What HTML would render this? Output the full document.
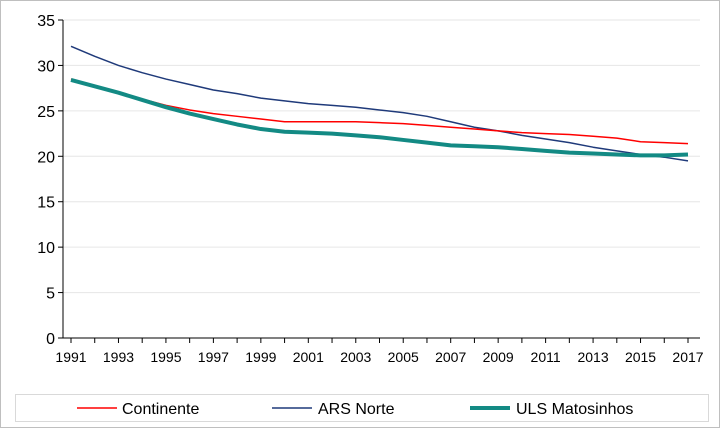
<!DOCTYPE html>
<html><head><meta charset="utf-8"><style>
body{margin:0;background:#fff;}
svg{font-family:"Liberation Sans",Arial,sans-serif;}
</style></head><body>
<svg id="c" width="720" height="428">
<rect x="0.5" y="0.5" width="719" height="427" fill="#fff" stroke="#bfbfbf"/>
<g id="grid"></g>
<g id="axes"></g>
<g id="series"></g>
<g>
<rect x="15.5" y="394.5" width="693" height="27" fill="#fff" stroke="#d9d9d9"/>
<g><line x1="77" y1="408" x2="117" y2="408" stroke="#ff0000" stroke-width="1.5"/><text x="122" y="414" font-size="16" fill="#000">Continente</text></g>
<g><line x1="272" y1="408" x2="312" y2="408" stroke="#1f3a7a" stroke-width="1.5"/><text x="318" y="414" font-size="16" fill="#000">ARS Norte</text></g>
<g><line x1="470" y1="408" x2="510" y2="408" stroke="#138a84" stroke-width="4"/><text x="516" y="414" font-size="16" fill="#000">ULS Matosinhos</text></g>
</g>
</svg>
<script>
const years=[1991,1992,1993,1994,1995,1996,1997,1998,1999,2000,2001,2002,2003,2004,2005,2006,2007,2008,2009,2010,2011,2012,2013,2014,2015,2016,2017];
const continente=[28.5,27.8,27.0,26.3,25.6,25.1,24.7,24.4,24.1,23.8,23.8,23.8,23.8,23.7,23.6,23.4,23.2,23.0,22.8,22.6,22.5,22.4,22.2,22.0,21.6,21.5,21.4];
const arsNorte=[32.1,31.0,30.0,29.2,28.5,27.9,27.3,26.9,26.4,26.1,25.8,25.6,25.4,25.1,24.8,24.4,23.8,23.2,22.8,22.3,21.9,21.5,21.0,20.6,20.2,19.9,19.5];
const uls=[28.4,27.7,27.0,26.2,25.4,24.7,24.1,23.5,23.0,22.7,22.6,22.5,22.3,22.1,21.8,21.5,21.2,21.1,21.0,20.8,20.6,20.4,20.3,20.2,20.1,20.1,20.2];
const yTicks=[0,5,10,15,20,25,30,35];
const NS="http://www.w3.org/2000/svg";
const X0=63,X1=700,Y0=338,Y1=20;
function xs(i){return 71+i*(688-71)/(years.length-1);}
function ys(v){return Y0-(v/35)*(Y0-Y1);}
function mk(t,a,p){const e=document.createElementNS(NS,t);for(const k in a)e.setAttribute(k,a[k]);p.appendChild(e);return e;}
const grid=document.getElementById('grid'),axes=document.getElementById('axes'),ser=document.getElementById('series');
yTicks.forEach(v=>{
 if(v>0){const g=mk('line',{x1:X0,x2:X1,y1:ys(v),y2:ys(v),stroke:'#e6e6e6'},grid);
 
 }
 const t=mk('text',{x:X0-8,y:ys(v)+6,'text-anchor':'end','font-size':16},axes);t.textContent=v;
 
 
 mk('line',{x1:X0-5,x2:X0,y1:ys(v),y2:ys(v),stroke:'#000'},axes);
});
mk('line',{x1:X0,x2:X0,y1:Y1,y2:Y0,stroke:'#000'},axes);
mk('line',{x1:X0,x2:X1,y1:Y0,y2:Y0,stroke:'#000'},axes);
years.forEach((y,i)=>{
 mk('line',{x1:xs(i),x2:xs(i),y1:Y0,y2:Y0+5,stroke:'#000'},axes);
 if(i%2===0){const t=mk('text',{x:xs(i),y:Y0+24,'text-anchor':'middle','font-size':14},axes);t.textContent=y;
 
 }
});
function line(d,col,w,name){
 const p=mk('polyline',{points:d.map((v,i)=>xs(i)+','+ys(v)).join(' '),fill:'none',stroke:col,'stroke-width':w,'stroke-linejoin':'round'},ser);
 
 
}
line(arsNorte,'#1f3a7a',1.5,'series-ars-norte');
line(continente,'#ff0000',1.5,'series-continente');
line(uls,'#138a84',4,'series-uls-matosinhos');
</script>
</body></html>
